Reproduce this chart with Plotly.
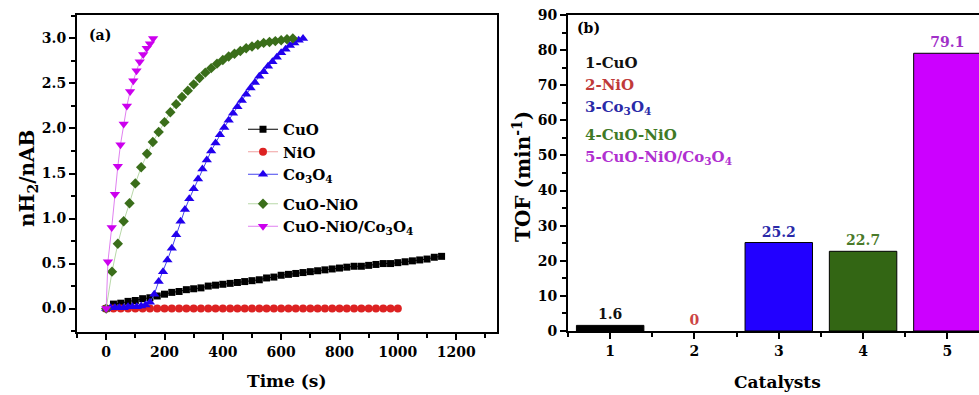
import plotly.graph_objects as go

W, H = 979, 395
def xp(px): return px / W
def yp(py): return 1 - py / H

FONT = "DejaVu Serif"

# ---------------- Panel (a) data ----------------
t_cuo = [0, 25, 50, 75, 100, 125, 150, 175, 200, 225, 250, 275, 300, 325, 350, 375, 400,
         425, 450, 475, 500, 525, 550, 575, 600, 625, 650, 675, 700, 725, 750, 775, 800,
         825, 850, 875, 900, 925, 950, 975, 1000, 1025, 1050, 1075, 1100, 1125, 1150]
y_cuo = [0.0, 0.05, 0.06, 0.08, 0.09, 0.11, 0.12, 0.14, 0.16, 0.18, 0.19, 0.21, 0.22, 0.23, 0.25, 0.26, 0.27,
         0.28, 0.29, 0.30, 0.31, 0.32, 0.34, 0.35, 0.37, 0.38, 0.39, 0.40, 0.41, 0.42, 0.43, 0.44, 0.45,
         0.46, 0.47, 0.47, 0.48, 0.49, 0.50, 0.50, 0.51, 0.52, 0.53, 0.54, 0.55, 0.57, 0.58]

t_nio = [0, 25, 50, 75, 100, 125, 150, 175, 200, 225, 250, 275, 300, 325, 350, 375, 400,
         425, 450, 475, 500, 525, 550, 575, 600, 625, 650, 675, 700, 725, 750, 775, 800,
         825, 850, 875, 900, 925, 950, 975, 1000]
y_nio = [0.0, 0.0, 0.0, 0.0, 0.0, 0.0, 0.0, 0.0, 0.0, 0.0, 0.0, 0.0, 0.0, 0.0, 0.0, 0.0, 0.0,
         0.0, 0.0, 0.0, 0.0, 0.0, 0.0, 0.0, 0.0, 0.0, 0.0, 0.0, 0.0, 0.0, 0.0, 0.0, 0.0,
         0.0, 0.0, 0.0, 0.0, 0.0, 0.0, 0.0, 0.0]

t_co = [0, 15, 30, 45, 60, 75, 90, 105, 120, 135, 150, 165, 180, 195, 210, 225, 240, 255,
        270, 285, 300, 315, 330, 345, 360, 375, 390, 405, 420, 435, 450, 465, 480, 495,
        510, 525, 540, 555, 570, 585, 600, 615, 630, 645, 660, 675]
y_co = [0.0, 0.01, 0.01, 0.01, 0.01, 0.02, 0.02, 0.02, 0.03, 0.04, 0.07, 0.16, 0.30, 0.41, 0.54, 0.67,
        0.82, 0.97, 1.10, 1.22, 1.33, 1.44, 1.55, 1.65, 1.75, 1.84, 1.93, 2.01, 2.09, 2.17, 2.24, 2.31,
        2.38, 2.45, 2.51, 2.58, 2.63, 2.69, 2.74, 2.79, 2.84, 2.88, 2.92, 2.95, 2.98, 3.0]

t_cn = [0, 20, 40, 60, 80, 100, 120, 140, 160, 180, 200, 220, 240, 260, 280, 300, 320,
        340, 360, 380, 400, 420, 440, 460, 480, 500, 520, 540, 560, 580, 600, 620, 640]
y_cn = [0.0, 0.41, 0.72, 0.97, 1.17, 1.39, 1.57, 1.72, 1.85, 1.96, 2.07, 2.18, 2.27, 2.35, 2.42, 2.49, 2.56,
        2.62, 2.67, 2.72, 2.76, 2.80, 2.83, 2.86, 2.89, 2.91, 2.93, 2.95, 2.96, 2.97, 2.98, 2.99, 3.0]

t_cnc = [0, 6, 19, 30, 40, 49, 60, 71, 82, 93, 104, 115, 127, 139, 150, 161]
y_cnc = [0.0, 0.52, 0.90, 1.27, 1.58, 1.82, 2.05, 2.25, 2.41, 2.53, 2.64, 2.74, 2.82, 2.89, 2.94, 3.0]

# ---------------- Panel (b) data ----------------
catalysts = [1, 2, 3, 4, 5]
tof = [1.6, 0, 25.2, 22.7, 79.1]
tof_labels = ["1.6", "0", "25.2", "22.7", "79.1"]
bar_colors = ["#000000", "#dd2222", "#2200ff", "#336614", "#cc00ff"]
bar_outline = [1, 0, 1, 1, 1]
label_colors = ["#111111", "#cc4444", "#2a2aa8", "#4a7a2a", "#a030c8"]
list_names = ["1-CuO", "2-NiO", "3-Co<sub>3</sub>O<sub>4</sub>", "4-CuO-NiO",
              "5-CuO-NiO/Co<sub>3</sub>O<sub>4</sub>"]
list_colors = ["#111111", "#c03a3a", "#2a2aa8", "#3f7a26", "#b030d0"]

fig = go.Figure()

series = [
    (t_cuo, y_cuo, "CuO", "square", 7, "#000000", "#000000", "g1"),
    (t_nio, y_nio, "NiO", "circle", 8, "#dd2222", "#f0a0a0", "g1"),
    (t_co, y_co, "Co<sub>3</sub>O<sub>4</sub>", "triangle-up", 9, "#2200ee", "#4444ee", "g1"),
    (t_cn, y_cn, "CuO-NiO", "diamond", 8, "#3a6e1a", "#b8d8a8", "g2"),
    (t_cnc, y_cnc, "CuO-NiO/Co<sub>3</sub>O<sub>4</sub>", "triangle-down", 9, "#cc00ee", "#e080f0", "g2"),
]
for tx, ty, name, sym, sz, mc, lc, grp in series:
    fig.add_trace(go.Scatter(
        x=tx, y=ty, name=name, mode="lines+markers", legendgroup=grp,
        marker=dict(symbol=sym, size=sz, color=mc, line=dict(width=0)),
        line=dict(color=lc, width=1),
        xaxis="x", yaxis="y", cliponaxis=False,
    ))

fig.add_trace(go.Bar(
    x=catalysts, y=tof, width=0.8, showlegend=False,
    marker=dict(color=bar_colors, line=dict(color="#000000", width=bar_outline)),
    text=tof_labels, textposition="outside",
    textfont=dict(family=FONT, size=14, color=label_colors, weight="bold"),
    cliponaxis=False, xaxis="x2", yaxis="y2",
))

tickfont = dict(family=FONT, size=14, color="#000000", weight="bold")
axis_common = dict(
    showline=True, linecolor="#000000", linewidth=2,
    ticks="outside", tickwidth=2, ticklen=6, tickcolor="#000000",
    showgrid=False, zeroline=False, tickfont=tickfont, automargin=False,
)

fig.update_layout(
    width=W, height=H,
    margin=dict(l=0, r=0, t=0, b=0, autoexpand=False),
    paper_bgcolor="white", plot_bgcolor="white",
    showlegend=True,
    bargap=0.2,
    xaxis=dict(domain=[xp(77), xp(497)], range=[-100, 1340], tickvals=[0, 200, 400, 600, 800, 1000, 1200],
               mirror=True, anchor="y",
               minor=dict(dtick=100, tick0=0, ticks="outside", ticklen=4, tickwidth=2, tickcolor="#000000"),
               **axis_common),
    yaxis=dict(domain=[yp(332), yp(15)], range=[-0.26, 3.26], tickvals=[0, 0.5, 1.0, 1.5, 2.0, 2.5, 3.0],
               tickformat=".1f", mirror=True, anchor="x",
               minor=dict(dtick=0.25, tick0=0, ticks="outside", ticklen=4, tickwidth=2, tickcolor="#000000"),
               **axis_common),
    xaxis2=dict(domain=[xp(568), 1.0], range=[0.5, 5.375], tickvals=[1, 2, 3, 4, 5],
                mirror=True, anchor="y2",
                minor=dict(dtick=1, tick0=0.5, ticks="outside", ticklen=4, tickwidth=2, tickcolor="#000000"),
                **axis_common),
    yaxis2=dict(domain=[yp(331), yp(15)], range=[0, 90], tickvals=[0, 10, 20, 30, 40, 50, 60, 70, 80, 90],
                mirror=False, anchor="x2",
                minor=dict(dtick=5, tick0=0, ticks="outside", ticklen=4, tickwidth=2, tickcolor="#000000"),
                **axis_common),
    legend=dict(x=xp(243), y=yp(113), xanchor="left", yanchor="top",
                bgcolor="rgba(0,0,0,0)", borderwidth=0,
                font=dict(family=FONT, size=15, color="#000000", weight="bold"),
                itemwidth=30, tracegroupgap=7, groupclick="toggleitem"),
)

ann = []
def add_text(text, x, y, size, color="#000000", xanchor="center", yanchor="middle", angle=0):
    ann.append(dict(text=text, x=xp(x), y=yp(y), xref="paper", yref="paper",
                    showarrow=False, xanchor=xanchor, yanchor=yanchor, textangle=angle,
                    font=dict(family=FONT, size=size, color=color, weight="bold")))

add_text("nH<sub>2</sub>/nAB", 28, 179, 20, angle=-90)
add_text("Time (s)", 287, 381, 17)
add_text("TOF (min<sup>-1</sup>)", 522, 177, 20, angle=-90)
add_text("Catalysts", 777, 382, 17)
add_text("(a)", 87, 35, 14, xanchor="left")
add_text("(b)", 575, 28, 14, xanchor="left")

list_y = [63, 85, 107, 135, 157]
for name, col, yy in zip(list_names, list_colors, list_y):
    add_text(name, 583, yy, 15, color=col, xanchor="left")

fig.update_layout(annotations=ann)

fig.write_html("out.html",
               config={"displayModeBar": False},
               post_script="document.body.style.margin='0';document.body.style.overflow='hidden';")
